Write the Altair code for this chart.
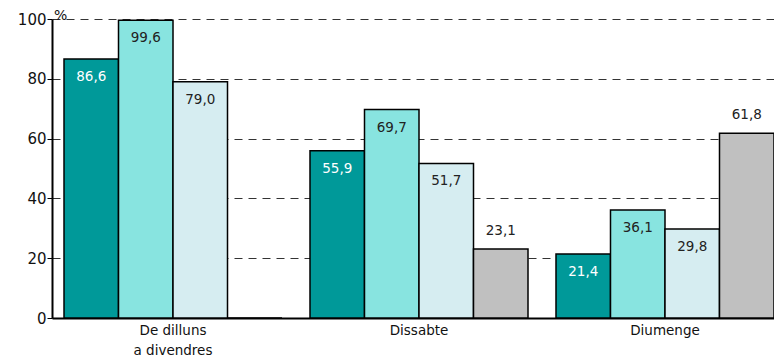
import altair as alt
import pandas as pd

# ---- data ----
groups = ["De dilluns|a divendres", "Dissabte", "Diumenge"]
series = ["Sèrie 1", "Sèrie 2", "Sèrie 3", "Sèrie 4"]
vals_s1 = [86.6, 55.9, 21.4]
vals_s2 = [99.6, 69.7, 36.1]
vals_s3 = [79.0, 51.7, 29.8]
vals_s4 = [0.0, 23.1, 61.8]
colors = ["#009999", "#88e4e0", "#d6edf1", "#c0c0c0"]
y_ticks = [0, 20, 40, 60, 80, 100]

rows = []
for s, vals in zip(series, [vals_s1, vals_s2, vals_s3, vals_s4]):
    for g, v in zip(groups, vals):
        rows.append({"group": g, "series": s, "value": v,
                     "label": f"{v:.1f}".replace(".", ",")})
df = pd.DataFrame(rows)

FONT = "DejaVu Sans"

x_enc = alt.X("group:N", sort=groups, title=None,
              scale=alt.Scale(paddingInner=0.1138, paddingOuter=0.0244, align=1.0),
              axis=alt.Axis(labelAngle=0, ticks=False, domainColor="black", domainWidth=2,
                            labelFontSize=13.5, labelColor="#111", labelFont=FONT,
                            labelPadding=5, labelLineHeight=20,
                            labelExpr="split(datum.label, '|')"))
xo_enc = alt.XOffset("series:N", sort=series,
                     scale=alt.Scale(paddingInner=0, paddingOuter=0))
y_enc = alt.Y("value:Q", title=None,
              scale=alt.Scale(domain=[0, 100], nice=False),
              axis=alt.Axis(values=y_ticks, tickSize=5, tickColor="black", tickWidth=1,
                            domainColor="black", domainWidth=2,
                            labelFontSize=15, labelColor="#111", labelFont=FONT,
                            labelPadding=1,
                            grid=True, gridDash=[8, 6], gridColor="#333", gridWidth=1))

base = alt.Chart(df)

bars = base.mark_bar(stroke="black", strokeWidth=1.5).encode(
    x=x_enc, xOffset=xo_enc, y=y_enc,
    color=alt.Color("series:N", sort=series,
                    scale=alt.Scale(domain=series, range=colors), legend=None),
)

inside = base.transform_filter(
    (alt.datum.series != series[3]) & (alt.datum.value > 0)
).mark_text(dy=18, fontSize=13.5, font=FONT, baseline="middle").encode(
    x=alt.X("group:N", sort=groups), xOffset=alt.XOffset("series:N", sort=series),
    y="value:Q", text="label:N",
    color=alt.Color("series:N", sort=series,
                    scale=alt.Scale(domain=series, range=["white", "#222", "#222", "#222"]),
                    legend=None),
)

above = base.transform_filter(
    (alt.datum.series == series[3]) & (alt.datum.value > 0)
).mark_text(dy=-18, fontSize=13.5, font=FONT, baseline="middle", color="#222").encode(
    x=alt.X("group:N", sort=groups), xOffset=alt.XOffset("series:N", sort=series),
    y="value:Q", text="label:N",
)

pct = alt.Chart(pd.DataFrame({"t": ["%"]})).mark_text(
    fontSize=14, font=FONT, align="left", baseline="middle", color="#111"
).encode(text="t:N", x=alt.value(2), y=alt.value(-3))

chart = alt.layer(bars, inside, above, pct).resolve_scale(color="independent").properties(
    width=722, height=299,
    autosize=alt.AutoSizeParams(type="none"),
    padding={"left": 44, "top": 11, "right": 0, "bottom": 40},
).configure_view(stroke=None)

chart.save("out.html", embed_options={"renderer": "svg", "actions": False})
